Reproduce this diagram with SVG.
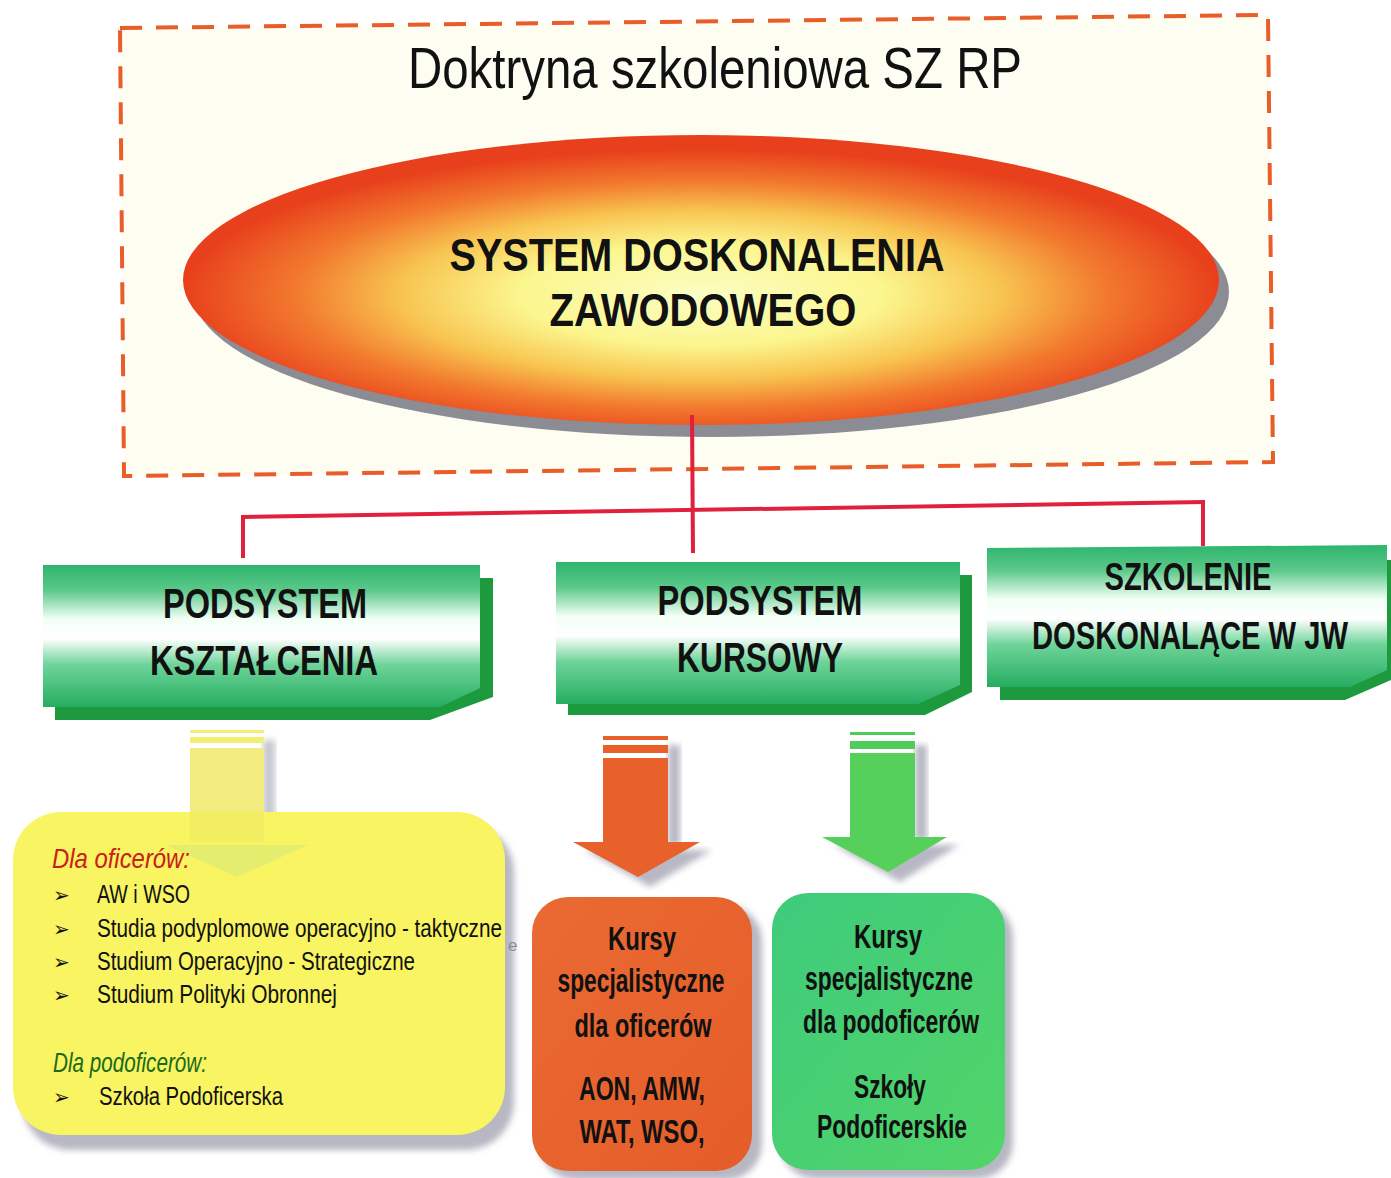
<svg xmlns="http://www.w3.org/2000/svg" width="1391" height="1178" viewBox="0 0 1391 1178">
<style>
.t{font-family:"Liberation Sans",Arial,sans-serif;fill:#111}
.box{font-family:"Liberation Sans",Arial,sans-serif;font-weight:bold;fill:#111;text-anchor:middle}
.li{font-family:"Liberation Sans",Arial,sans-serif;fill:#111;font-size:26px}
.bul{font-family:"DejaVu Sans",sans-serif;fill:#111;font-size:20px}
.conn{stroke:#e0203c;stroke-width:4;fill:none}
.gshadow{fill:#1e9a3e}
.sh{fill:#b8b8c4;filter:url(#blur)}
</style>
<defs>
<filter id="blur" x="-10%" y="-10%" width="120%" height="120%"><feGaussianBlur stdDeviation="3"/></filter>
<radialGradient id="ell" cx="0.5" cy="0.55" r="0.5">
<stop offset="0" stop-color="#fcfdc4"/>
<stop offset="0.35" stop-color="#fbf68e"/>
<stop offset="0.58" stop-color="#f8c450"/>
<stop offset="0.78" stop-color="#f27a2e"/>
<stop offset="1" stop-color="#e8401c"/>
</radialGradient>
<linearGradient id="grn" x1="0" y1="0" x2="0" y2="1">
<stop offset="0" stop-color="#2db56c"/>
<stop offset="0.18" stop-color="#5cc98a"/>
<stop offset="0.38" stop-color="#f2fff6"/>
<stop offset="0.52" stop-color="#ffffff"/>
<stop offset="0.7" stop-color="#6fd49a"/>
<stop offset="1" stop-color="#25ad60"/>
</linearGradient>
<linearGradient id="org" x1="0" y1="0" x2="1" y2="1">
<stop offset="0" stop-color="#ea6a34"/>
<stop offset="1" stop-color="#e55d28"/>
</linearGradient>
<linearGradient id="gbx" x1="0" y1="0" x2="1" y2="1">
<stop offset="0" stop-color="#3ecb7c"/>
<stop offset="1" stop-color="#52d468"/>
</linearGradient>
</defs>
<rect width="1391" height="1178" fill="#ffffff"/>

<g id="frame">
<polygon points="120,28 1268,15 1273,462 124,476" fill="#fdfdf2" stroke="#e85d28" stroke-width="4" stroke-dasharray="22 14"/>
<text class="t" x="408" y="88" font-size="57" textLength="614" lengthAdjust="spacingAndGlyphs">Doktryna szkoleniowa SZ RP</text>
</g>

<g id="system">
<ellipse cx="711" cy="292" rx="518" ry="145" fill="#8c8c94"/>
<ellipse cx="701" cy="280" rx="518" ry="145" fill="url(#ell)"/>
<text class="box" x="697" y="271" font-size="47" textLength="495" lengthAdjust="spacingAndGlyphs">SYSTEM DOSKONALENIA</text>
<text class="box" x="703" y="326" font-size="47" textLength="307" lengthAdjust="spacingAndGlyphs">ZAWODOWEGO</text>
</g>

<g id="connectors">
<line class="conn" x1="692" y1="415" x2="693" y2="553"/>
<line class="conn" x1="241" y1="517" x2="1205" y2="502"/>
<line class="conn" x1="243" y1="517" x2="243" y2="558"/>
<line class="conn" x1="1203" y1="502" x2="1203" y2="546"/>
</g>

<g id="ksztalcenie">
<polygon class="gshadow" points="55,578 493,578 493,697 430,720 55,720"/>
<polygon points="43,565 480,565 480,688 440,707 43,707" fill="url(#grn)"/>
<text class="box" x="265" y="618" font-size="43" textLength="204" lengthAdjust="spacingAndGlyphs">PODSYSTEM</text>
<text class="box" x="264" y="675" font-size="43" textLength="228" lengthAdjust="spacingAndGlyphs">KSZTAŁCENIA</text>
</g>

<g id="kursowy">
<polygon class="gshadow" points="568,575 972,575 972,692 925,715 568,715"/>
<polygon points="556,562 960,562 960,685 918,704 556,704" fill="url(#grn)"/>
<text class="box" x="760" y="615" font-size="43" textLength="205" lengthAdjust="spacingAndGlyphs">PODSYSTEM</text>
<text class="box" x="760" y="672" font-size="43" textLength="166" lengthAdjust="spacingAndGlyphs">KURSOWY</text>
</g>

<g id="szkolenie">
<polygon class="gshadow" points="1000,560 1391,560 1391,680 1345,700 1000,700"/>
<polygon points="987,548 1387,545 1387,670 1350,687 987,687" fill="url(#grn)"/>
<text class="box" x="1188" y="590" font-size="38" textLength="167" lengthAdjust="spacingAndGlyphs">SZKOLENIE</text>
<text class="box" x="1190" y="649" font-size="38" textLength="316" lengthAdjust="spacingAndGlyphs">DOSKONALĄCE W JW</text>
</g>

<g id="arrow-yellow" opacity="0.8">
<rect class="sh" x="263" y="740" width="12" height="100"/>
<rect x="190" y="730" width="74" height="3" fill="#f2ea50"/>
<rect x="190" y="737" width="74" height="6" fill="#f2ea50"/>
<rect x="190" y="748" width="74" height="95" fill="#f0e860"/>
<polygon points="166,845 308,845 237,877" fill="#cfe090"/>
</g>

<g id="box-yellow">
<rect class="sh" x="22" y="824" width="492" height="326" rx="48"/>
<rect x="13" y="812" width="492" height="323" rx="48" fill="#f8f462"/>
<rect x="190" y="812" width="74" height="30" fill="#f0e860" opacity="0.6"/>
<polygon points="166,845 308,845 237,877" fill="#d8e878" opacity="0.6"/>
<text class="t" x="52" y="868" font-size="28" font-style="italic" style="fill:#c8201a" textLength="138" lengthAdjust="spacingAndGlyphs">Dla oficerów:</text>
<text class="bul" x="53" y="902">➢</text>
<text class="li" x="97" y="903" textLength="93" lengthAdjust="spacingAndGlyphs">AW i WSO</text>
<text class="bul" x="53" y="936">➢</text>
<text class="li" x="97" y="937" textLength="405" lengthAdjust="spacingAndGlyphs">Studia podyplomowe operacyjno - taktyczne</text>
<text class="bul" x="53" y="969">➢</text>
<text class="li" x="97" y="970" textLength="318" lengthAdjust="spacingAndGlyphs">Studium Operacyjno - Strategiczne</text>
<text class="bul" x="53" y="1002">➢</text>
<text class="li" x="97" y="1003" textLength="240" lengthAdjust="spacingAndGlyphs">Studium Polityki Obronnej</text>
<text class="t" x="53" y="1072" font-size="28" font-style="italic" style="fill:#1a6a1a" textLength="154" lengthAdjust="spacingAndGlyphs">Dla podoficerów:</text>
<text class="bul" x="53" y="1104">➢</text>
<text class="li" x="99" y="1105" textLength="184" lengthAdjust="spacingAndGlyphs">Szkoła Podoficerska</text>
<text class="t" x="508" y="951" font-size="17" style="fill:#8a8a8a">e</text>
</g>

<g id="arrow-orange">
<rect class="sh" x="668" y="745" width="12" height="100"/>
<polygon class="sh" points="585,850 712,850 650,887"/>
<rect x="603" y="736" width="65" height="4" fill="#e8602a"/>
<rect x="603" y="745" width="65" height="8" fill="#e8602a"/>
<rect x="603" y="758" width="65" height="85" fill="#e8602a"/>
<polygon points="573,842 700,842 638,877" fill="#e8602a"/>
</g>

<g id="arrow-green">
<rect class="sh" x="915" y="745" width="12" height="95"/>
<polygon class="sh" points="834,845 959,845 900,882"/>
<rect x="850" y="732" width="65" height="3" fill="#50cc5a"/>
<rect x="850" y="741" width="65" height="8" fill="#50cc5a"/>
<rect x="850" y="753" width="65" height="85" fill="#55d05a"/>
<polygon points="822,837 947,837 888,872" fill="#55d05a"/>
</g>

<g id="box-orange">
<rect class="sh" x="540" y="905" width="222" height="275" rx="36"/>
<rect x="532" y="897" width="220" height="274" rx="36" fill="url(#org)"/>
<text class="box" x="642" y="950" font-size="33" textLength="68" lengthAdjust="spacingAndGlyphs">Kursy</text>
<text class="box" x="641" y="992" font-size="33" textLength="167" lengthAdjust="spacingAndGlyphs">specjalistyczne</text>
<text class="box" x="643" y="1037" font-size="33" textLength="137" lengthAdjust="spacingAndGlyphs">dla oficerów</text>
<text class="box" x="642" y="1100" font-size="33" textLength="126" lengthAdjust="spacingAndGlyphs">AON, AMW,</text>
<text class="box" x="642" y="1143" font-size="33" textLength="125" lengthAdjust="spacingAndGlyphs">WAT, WSO,</text>
</g>

<g id="box-green">
<rect class="sh" x="780" y="901" width="233" height="278" rx="36"/>
<rect x="772" y="893" width="233" height="277" rx="36" fill="url(#gbx)"/>
<text class="box" x="888" y="948" font-size="33" textLength="68" lengthAdjust="spacingAndGlyphs">Kursy</text>
<text class="box" x="889" y="990" font-size="33" textLength="168" lengthAdjust="spacingAndGlyphs">specjalistyczne</text>
<text class="box" x="891" y="1033" font-size="33" textLength="176" lengthAdjust="spacingAndGlyphs">dla podoficerów</text>
<text class="box" x="890" y="1098" font-size="33" textLength="72" lengthAdjust="spacingAndGlyphs">Szkoły</text>
<text class="box" x="892" y="1138" font-size="33" textLength="150" lengthAdjust="spacingAndGlyphs">Podoficerskie</text>
</g>
</svg>
